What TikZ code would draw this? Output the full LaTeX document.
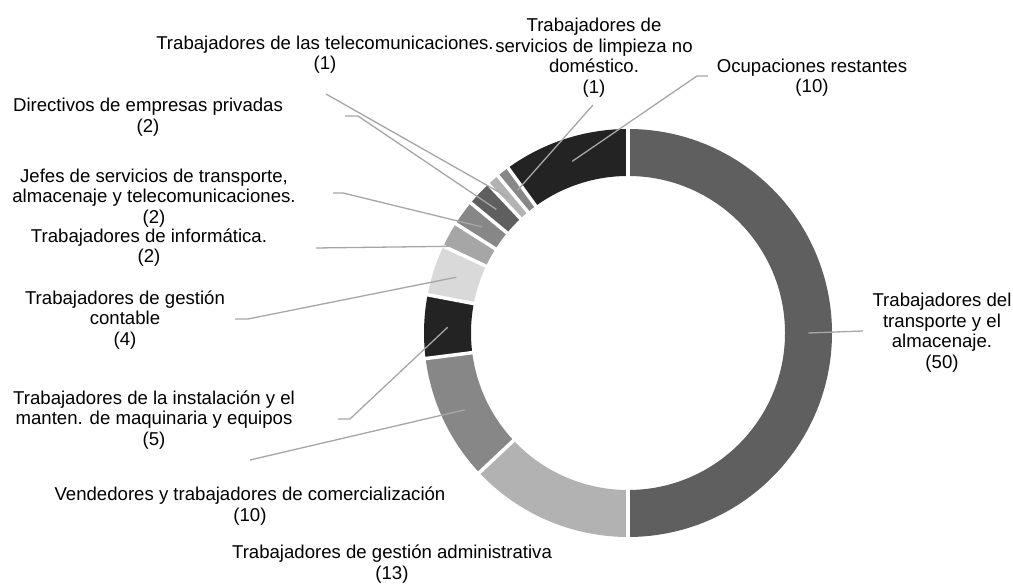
\documentclass[tikz,border=0pt]{standalone}
\usepackage{fontspec}
\setmainfont{Liberation Sans}
\definecolor{c-transp}{HTML}{5F5F5F}
\definecolor{c-admin}{HTML}{B2B2B2}
\definecolor{c-vend}{HTML}{878787}
\definecolor{c-inst}{HTML}{232323}
\definecolor{c-cont}{HTML}{D9D9D9}
\definecolor{c-info}{HTML}{A6A6A6}
\definecolor{c-jefes}{HTML}{878787}
\definecolor{c-dir}{HTML}{5F5F5F}
\definecolor{c-tele}{HTML}{B3B3B3}
\definecolor{c-limp}{HTML}{878787}
\definecolor{c-rest}{HTML}{232323}
\definecolor{c-guia}{HTML}{A6A6A6}
\begin{document}
\begin{tikzpicture}[x=1pt,y=1pt,
  lbl/.style={align=center,inner sep=0pt,font=\fontsize{18.6}{20.6}\selectfont},
  guia/.style={draw=c-guia,line width=1.3pt}]
\useasboundingbox (0,0) rectangle (1013,585);
\begin{scope}[shift={(628,252)}]
\foreach \a/\b/\c in {90/-90/c-transp,-90/-136.8/c-admin,-136.8/-172.8/c-vend,
  -172.8/-190.8/c-inst,-190.8/-205.2/c-cont,-205.2/-212.4/c-info,-212.4/-219.6/c-jefes,
  -219.6/-226.8/c-dir,-226.8/-230.4/c-tele,-230.4/-234/c-limp,-234/-270/c-rest}
  \fill[fill=\c] (\a:204) arc[start angle=\a,end angle=\b,radius=204]
    -- (\b:157) arc[start angle=\b,end angle=\a,radius=157] -- cycle;
\foreach \a in {90,-90,-136.8,-172.8,-190.8,-205.2,-212.4,-219.6,-226.8,-230.4,-234}
  \draw[white,line width=3.5pt] (\a:150) -- (\a:210);
\coordinate (p-transp) at (0:180.5);
\coordinate (p-vend) at (205.2:180.5);
\coordinate (p-inst) at (178.2:180.5);
\coordinate (p-cont) at (162:180.5);
\coordinate (p-info) at (151.2:180.5);
\coordinate (p-jefes) at (144:180.5);
\coordinate (p-dir) at (136.8:180.5);
\coordinate (p-tele) at (131.4:180.5);
\coordinate (p-limp) at (127.8:180.5);
\coordinate (p-rest) at (108:180.5);
\end{scope}
\draw (942,252.5) node[lbl] (transp) {Trabajadores del\\transporte y el\\almacenaje.\\(50)};
\draw (392,21) node[lbl] (admin) {Trabajadores de gestión administrativa\\(13)};
\draw (250,79) node[lbl] (vend) {Vendedores y trabajadores de comercialización\\(10)};
\draw (154,165) node[lbl] (inst) {Trabajadores de la instalación y el\\manten. de maquinaria y equipos\\(5)};
\draw (125,265) node[lbl] (cont) {Trabajadores de gestión\\contable\\(4)};
\draw (149,337.5) node[lbl] (info) {Trabajadores de informática.\\(2)};
\draw (154,387) node[lbl] (jefes) {Jefes de servicios de transporte,\\almacenaje y telecomunicaciones.\\(2)};
\draw (148,468) node[lbl] (dir) {Directivos de empresas privadas\\(2)};
\draw (325,530.5) node[lbl] (tele) {Trabajadores de las telecomunicaciones.\\(1)};
\draw (594,527.5) node[lbl] (limp) {Trabajadores de\\servicios de limpieza no\\doméstico.\\(1)};
\draw (812,507.5) node[lbl] (rest) {Ocupaciones restantes\\(10)};
\coordinate (g-transp) at (863,254);
\coordinate (g-vend) at (250,125);
\coordinate (g-inst) at (338,166);
\coordinate (g-cont) at (235,266);
\coordinate (g-info) at (316,337);
\coordinate (g-jefes) at (333,392);
\coordinate (g-dir) at (345,469);
\coordinate (g-tele) at (326,491);
\coordinate (g-limp) at (593,480);
\coordinate (g-rest) at (708,509);
\draw[guia] (g-transp) -- (p-transp);
\draw[guia] (g-vend) -- (p-vend);
\draw[guia] (g-inst) -- ++(12,0) -- (p-inst);
\draw[guia] (g-cont) -- ++(13,0) -- (p-cont);
\draw[guia] (g-info) -- (p-info);
\draw[guia] (g-jefes) -- ++(10,0) -- (p-jefes);
\draw[guia] (g-dir) -- ++(13,0) -- (p-dir);
\draw[guia] (g-tele) -- (p-tele);
\draw[guia] (g-limp) -- (p-limp);
\draw[guia] (g-rest) -- ++(-11,0) -- (p-rest);
\end{tikzpicture}
\end{document}
